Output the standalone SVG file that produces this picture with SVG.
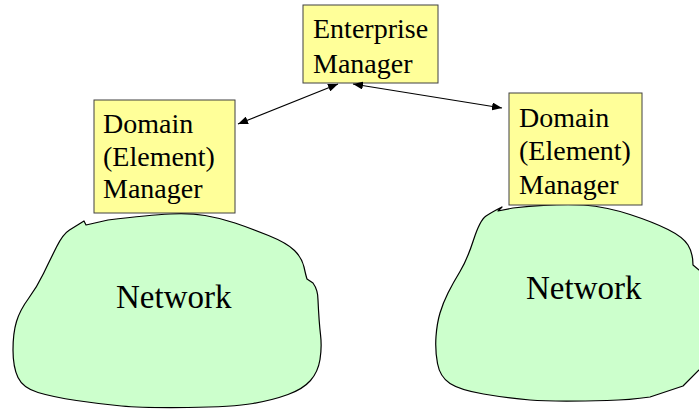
<svg xmlns="http://www.w3.org/2000/svg" width="699" height="409" viewBox="0 0 699 409">
  <style>
    .box { fill: #FFFF99; stroke: #404040; stroke-width: 1; }
    .cloud { fill: #CCFFCC; stroke: #000000; stroke-width: 1.2; stroke-linejoin: round; }
    .lbl { font-family: 'Liberation Serif', serif; font-size: 28px; fill: #000000; }
    .net { font-family: 'Liberation Serif', serif; font-size: 33px; fill: #000000; }
    .conn { stroke: #000000; stroke-width: 1.2; fill: none; }
  </style>
  <defs>
    <marker id="ah" viewBox="0 0 10 8" refX="10" refY="4" markerWidth="10" markerHeight="8" markerUnits="userSpaceOnUse" orient="auto-start-reverse">
      <path d="M0,0 L10,4 L0,8 Z" fill="#000000"/>
    </marker>
  </defs>
  <rect width="699" height="409" fill="#FFFFFF"/>

  <g id="network-left">
    <path class="cloud" d="M 86,225 L 108,220 Q 150,215 170,214 Q 190,213 205,215.5 Q 220,218 235,223 Q 250,228 268.5,235.5 Q 287,243 294.5,250.5 Q 302,258 304,267 Q 306,276 307,279 L 313,283 Q 318,290 318,300 Q 319,322 320.5,334.5 Q 322,347 320,359.5 Q 318,372 310.5,380.5 Q 303,389 288,394.5 Q 273,400 253,403.5 Q 233,407 188,407.5 Q 143,408 121.5,406 Q 100,404 76.5,400.5 Q 53,397 38,392.5 Q 23,388 18,377.5 Q 13,367 13,350 Q 13,333 16.5,321.5 Q 20,310 28.5,298.5 Q 37,287 43.5,273.5 Q 50,260 56.5,247 Q 63,234 69.5,230 Q 76,226 84,221 L 86,225 Z"/>
    <text class="net" x="116" y="308" style="font-family:'Liberation Serif', serif">Network</text>
  </g>

  <g id="network-right">
    <path class="cloud" d="M 498,211 L 513,208 Q 560,203 583.5,205 Q 607,207 630,214.5 Q 653,222 668,229.5 Q 683,237 688,245 Q 693,253 693,265 L 699,270 L 720,272 L 720,368 L 699,370 L 683,386 L 650,397 Q 630,400 607,400.5 Q 553,402 530,400 Q 507,398 483.5,394 Q 460,390 450,383.5 Q 440,377 437.5,363.5 Q 435,350 436,336.5 Q 437,323 440,313 Q 443,303 448,293 Q 453,283 460,271.5 Q 467,260 473.5,240 Q 480,220 486,216 Q 492,212 502,207 L 498,211 Z"/>
    <text class="net" x="526" y="299" style="font-family:'Liberation Serif', serif">Network</text>
  </g>

  <g id="enterprise-manager">
    <rect class="box" x="303" y="5" width="135" height="78"/>
    <text class="lbl" x="313" y="38" style="font-family:'Liberation Serif', serif">Enterprise</text>
    <text class="lbl" x="313" y="73" style="font-family:'Liberation Serif', serif">Manager</text>
  </g>

  <g id="domain-manager-left">
    <rect class="box" x="94" y="100" width="141" height="113"/>
    <text class="lbl" x="103" y="133" style="font-family:'Liberation Serif', serif">Domain</text>
    <text class="lbl" x="103" y="166" style="font-family:'Liberation Serif', serif">(Element)</text>
    <text class="lbl" x="103" y="198" style="font-family:'Liberation Serif', serif">Manager</text>
  </g>

  <g id="domain-manager-right">
    <rect class="box" x="509" y="93" width="133" height="112"/>
    <text class="lbl" x="519" y="127" style="font-family:'Liberation Serif', serif">Domain</text>
    <text class="lbl" x="519" y="160" style="font-family:'Liberation Serif', serif">(Element)</text>
    <text class="lbl" x="519" y="194" style="font-family:'Liberation Serif', serif">Manager</text>
  </g>

  <g id="connectors">
    <line class="conn" x1="238" y1="124" x2="338" y2="84" marker-start="url(#ah)" marker-end="url(#ah)"/>
    <line class="conn" x1="353" y1="84" x2="502" y2="108" marker-start="url(#ah)" marker-end="url(#ah)"/>
  </g>
</svg>
